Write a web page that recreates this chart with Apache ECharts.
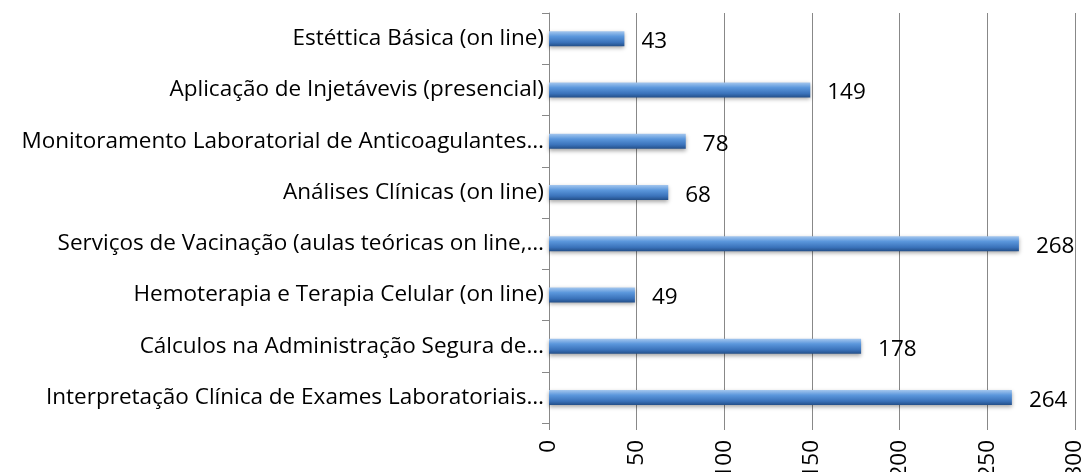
<!DOCTYPE html>
<html lang="pt">
<head>
    <meta charset="UTF-8">
    <title>Cursos</title>
    <script src="https://cdn.jsdelivr.net/npm/echarts@6/dist/echarts.min.js"></script>
    <style>
        html, body { margin: 0; padding: 0; background: #fff; }
        #chart { width: 1085px; height: 472px; }
    </style>
</head>
<body>
    <div id="chart"></div>
    <script>
        // categorias de baixo para cima (como no eixo)
        const cursos = [
            'Interpretação Clínica de Exames Laboratoriais…',
            'Cálculos na Administração Segura de…',
            'Hemoterapia e Terapia Celular (on line)',
            'Serviços de Vacinação (aulas teóricas on line,…',
            'Análises Clínicas (on line)',
            'Monitoramento Laboratorial de Anticoagulantes…',
            'Aplicação de Injetávevis (presencial)',
            'Estéttica Básica (on line)'
        ];
        const inscritos = [264, 178, 49, 268, 68, 78, 149, 43];
        const ticksX = [0, 50, 100, 150, 200, 250, 300];

        const fonte = '"Open Sans", sans-serif';

        const chart = echarts.init(document.getElementById('chart'));

        const option = {
            animation: false,
            grid: {
                left: 549, right: 10, top: 13, bottom: 49,
                containLabel: false,
                outerBoundsMode: 'none' // rótulos do eixo x saem da área, como no original
            },
            xAxis: {
                type: 'value',
                min: ticksX[0],
                max: ticksX[ticksX.length - 1],
                interval: 50,
                axisLine: { show: false },
                axisTick: { show: true, length: 7, lineStyle: { color: '#888' } },
                axisLabel: {
                    rotate: 90,
                    margin: 17,
                    color: '#000',
                    fontFamily: fonte,
                    fontSize: 22.5
                },
                splitLine: { show: true, lineStyle: { color: '#888', width: 1 } }
            },
            yAxis: {
                type: 'category',
                data: cursos,
                axisLine: { show: true, lineStyle: { color: '#888' } },
                axisTick: { show: true, length: 7, lineStyle: { color: '#888' } },
                axisLabel: {
                    margin: 5,
                    color: '#000',
                    fontFamily: fonte,
                    fontSize: 22.5
                }
            },
            series: [{
                type: 'bar',
                data: inscritos,
                barWidth: 15,
                itemStyle: {
                    color: new echarts.graphic.LinearGradient(0, 0, 0, 1, [
                        { offset: 0, color: '#a6c8ef' },
                        { offset: 0.35, color: '#5b97dc' },
                        { offset: 0.75, color: '#3a72ba' },
                        { offset: 1, color: '#24508a' }
                    ]),
                    shadowColor: 'rgba(0,0,0,0.35)',
                    shadowBlur: 4,
                    shadowOffsetY: 2
                },
                label: {
                    show: true,
                    position: 'right',
                    distance: 17,
                    offset: [0, 3],
                    color: '#000',
                    fontFamily: fonte,
                    fontSize: 22.5
                }
            }]
        };

        chart.setOption(option);
    </script>
</body>
</html>
